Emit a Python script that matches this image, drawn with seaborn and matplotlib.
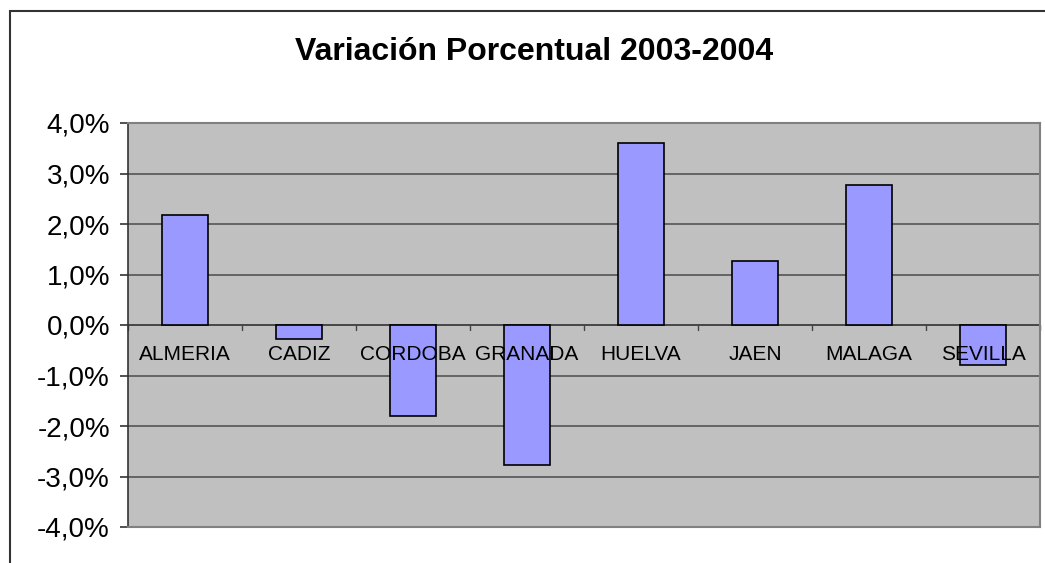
import numpy as np
import matplotlib
matplotlib.use('Agg')
import matplotlib.pyplot as plt
import seaborn as sns
from matplotlib.ticker import FuncFormatter, MultipleLocator
from matplotlib.patches import Rectangle

# datos
provincias = ['ALMERIA', 'CADIZ', 'CORDOBA', 'GRANADA', 'HUELVA', 'JAEN', 'MALAGA', 'SEVILLA']
variacion = [2.18, -0.28, -1.80, -2.77, 3.60, 1.26, 2.77, -0.79]
titulo = 'Variación Porcentual 2003-2004'

sns.set_style('white')
plt.rcParams['font.family'] = ['Liberation Sans', 'DejaVu Sans']
plt.rcParams['text.color'] = 'black'
plt.rcParams['ytick.color'] = 'black'

fig = plt.figure(figsize=(10.45, 5.63), dpi=100)
ax = fig.add_axes([128 / 1045, 1 - 527 / 563, 912 / 1045, 404 / 563])
ax.set_facecolor('#C0C0C0')

# marco del grafico (recortado a la derecha y abajo)
fig.patches.append(Rectangle((10 / 1045, -0.5), 3, 1.5 - 11 / 563, transform=fig.transFigure,
                             fill=False, edgecolor='#333333', linewidth=1.5, zorder=0))

sns.barplot(x=provincias, y=variacion, color='#9999FF', saturation=1, edgecolor='black',
            linewidth=1.2, width=0.4, ax=ax, zorder=3)

ax.set_ylim(-4, 4)
ax.set_xlim(-0.5, len(provincias) - 0.5)
ax.yaxis.set_major_locator(MultipleLocator(1))
ax.yaxis.set_major_formatter(FuncFormatter(lambda v, p: f'{v:.1f}%'.replace('.', ',')))
ax.grid(axis='y', color='#555555', linewidth=1.2, zorder=1)
ax.set_axisbelow(True)
ax.set_xticks([])
ax.set_xlabel('')
ax.set_ylabel('')
ax.tick_params(axis='y', left=True, length=6, width=1.2, color='#333333', pad=7,
               labelsize=20, labelcolor='black')

for side in ['top', 'right', 'bottom']:
    ax.spines[side].set_color('#808080')
    ax.spines[side].set_linewidth(1.5)
ax.spines['left'].set_color('#333333')
ax.spines['left'].set_linewidth(1.2)

# eje cero con marcas entre categorias
ax.axhline(0, color='#444444', linewidth=1.2, zorder=2)
for b in np.arange(len(provincias) + 1) - 0.5:
    ax.plot([b, b], [0, -0.1], color='#444444', linewidth=1, zorder=2, clip_on=False)

for i, p in enumerate(provincias):
    ax.annotate(p, xy=(i, 0), xytext=(0, -21.5), textcoords='offset points',
                ha='center', va='center', fontsize=15, color='black', zorder=5)

fig.text(534 / 1045, 1 - 52 / 563, titulo, ha='center', va='center',
         fontsize=23, fontweight='bold', color='black')

fig.savefig('out.png', dpi=100)
